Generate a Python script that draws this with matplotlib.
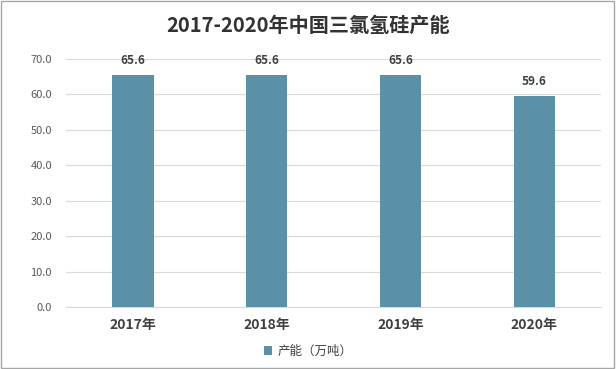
import matplotlib.pyplot as plt
from matplotlib.patches import Rectangle

plt.rcParams['font.family'] = ['Noto Sans CJK SC', 'DejaVu Sans']

years = ["2017年", "2018年", "2019年", "2020年"]
capacity = [65.6, 65.6, 65.6, 59.6]
bar_color = "#5b91a7"

fig = plt.figure(figsize=(6.16, 3.69), dpi=100)
ax = fig.add_axes([0.107, 0.168, 0.869, 0.672])

x = range(len(years))
bars = ax.bar(x, capacity, width=0.31, color=bar_color, label="产能（万吨）", zorder=3)
for i, v in zip(x, capacity):
    ax.text(i, v + 2.2, f"{v:.1f}", ha="center", va="bottom", fontsize=8.5,
            fontweight="bold", color="#404040")

ax.set_xlim(-0.5, len(years) - 0.5)
ax.set_ylim(0, 70)
ax.set_yticks(range(0, 71, 10))
ax.set_yticklabels([f"{t:.1f}" for t in range(0, 71, 10)], fontsize=8, color="#595959")
ax.set_xticks(list(x))
ax.set_xticklabels(years, fontsize=10, fontweight="bold", color="#404040")
ax.tick_params(axis="both", length=0)
ax.tick_params(axis="y", pad=10)
ax.tick_params(axis="x", pad=8)
ax.grid(axis="y", color="#d9d9d9", linewidth=0.8, zorder=0)
for s in ["top", "right", "left"]:
    ax.spines[s].set_visible(False)
ax.spines["bottom"].set_color("#d9d9d9")

fig.suptitle("2017-2020年中国三氯氢硅产能", y=0.96, fontsize=14.5,
             fontweight="bold", color="#333333")

fig.legend(loc="lower center", bbox_to_anchor=(0.5, 0.0), frameon=False,
           fontsize=9, handlelength=0.7, handleheight=0.7, handletextpad=0.4,
           labelcolor="#404040")

fig.patches.append(Rectangle((0.002, 0.004), 0.995, 0.992, transform=fig.transFigure,
                             fill=False, edgecolor="#a6a6a6", linewidth=1))

fig.savefig("out.png", dpi=100)
